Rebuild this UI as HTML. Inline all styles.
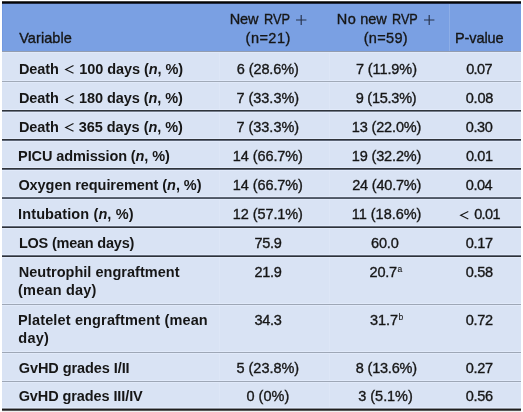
<!DOCTYPE html>
<html><head><meta charset="utf-8"><style>
html,body{margin:0;padding:0;background:#fff;}
body{width:523px;height:412px;position:relative;overflow:hidden;font-family:"Liberation Sans",sans-serif;color:#161616;}
.r{position:absolute;}
.layer{position:absolute;left:0;top:0;width:523px;height:412px;will-change:transform;}
.g{position:absolute;overflow:visible;}
.t{position:absolute;line-height:0;white-space:nowrap;font-size:14.5px;-webkit-text-stroke:0.35px #161616;}
.b{-webkit-text-stroke:0;}
.b{font-weight:bold;}
sup{-webkit-text-stroke:0.1px #161616;font-size:8.5px;line-height:0;vertical-align:0;position:relative;top:-5px;margin-left:0.5px;}
</style></head><body>
<div class="r" style="left:2px;top:1px;width:519px;height:1px;background:#434343"></div>
<div class="r" style="left:2px;top:2px;width:519px;height:1px;background:#050505"></div>
<div class="r" style="left:2px;top:3px;width:519px;height:1px;background:#222c45"></div>
<div class="r" style="left:2px;top:4px;width:519px;height:47px;background:#7aa0e3"></div>
<div class="r" style="left:2px;top:51px;width:519px;height:1px;background:#939db0"></div>
<div class="r" style="left:2px;top:52px;width:519px;height:357px;background:#d9e3f4"></div>
<div class="r" style="left:2px;top:52px;width:519px;height:1px;background:#e1eafa"></div>
<div class="r" style="left:2px;top:4px;width:1px;height:47px;background:#7299e0"></div>
<div class="r" style="left:449px;top:4px;width:1px;height:47px;background:#8daee7"></div>
<div class="r" style="left:219px;top:53px;width:1px;height:354px;background:#dde6f6"></div>
<div class="r" style="left:329px;top:53px;width:1px;height:354px;background:#dde6f6"></div>
<div class="r" style="left:2px;top:80px;width:519px;height:1px;background:#e1eafa"></div>
<div class="r" style="left:2px;top:82px;width:519px;height:1px;background:#e1eafa"></div>
<div class="r" style="left:2px;top:109px;width:519px;height:1px;background:#e1eafa"></div>
<div class="r" style="left:2px;top:112px;width:519px;height:1px;background:#e1eafa"></div>
<div class="r" style="left:2px;top:138px;width:519px;height:1px;background:#e1eafa"></div>
<div class="r" style="left:2px;top:141px;width:519px;height:1px;background:#e1eafa"></div>
<div class="r" style="left:2px;top:167px;width:519px;height:1px;background:#e1eafa"></div>
<div class="r" style="left:2px;top:170px;width:519px;height:1px;background:#e1eafa"></div>
<div class="r" style="left:2px;top:196px;width:519px;height:1px;background:#e1eafa"></div>
<div class="r" style="left:2px;top:199px;width:519px;height:1px;background:#e1eafa"></div>
<div class="r" style="left:2px;top:225px;width:519px;height:1px;background:#e1eafa"></div>
<div class="r" style="left:2px;top:228px;width:519px;height:1px;background:#e1eafa"></div>
<div class="r" style="left:2px;top:254px;width:519px;height:1px;background:#e1eafa"></div>
<div class="r" style="left:2px;top:257px;width:519px;height:1px;background:#e1eafa"></div>
<div class="r" style="left:2px;top:303px;width:519px;height:1px;background:#e1eafa"></div>
<div class="r" style="left:2px;top:305px;width:519px;height:1px;background:#e1eafa"></div>
<div class="r" style="left:2px;top:351px;width:519px;height:1px;background:#e1eafa"></div>
<div class="r" style="left:2px;top:353px;width:519px;height:1px;background:#e1eafa"></div>
<div class="r" style="left:2px;top:380px;width:519px;height:1px;background:#e1eafa"></div>
<div class="r" style="left:2px;top:382px;width:519px;height:1px;background:#e1eafa"></div>
<div class="r" style="left:2px;top:81px;width:519px;height:1px;background:#a1aab8"></div>
<div class="r" style="left:2px;top:110px;width:519px;height:1px;background:#30353c"></div>
<div class="r" style="left:2px;top:111px;width:519px;height:1px;background:#747c8a"></div>
<div class="r" style="left:2px;top:139px;width:519px;height:1px;background:#30343b"></div>
<div class="r" style="left:2px;top:140px;width:519px;height:1px;background:#5c6575"></div>
<div class="r" style="left:2px;top:168px;width:519px;height:1px;background:#30343b"></div>
<div class="r" style="left:2px;top:169px;width:519px;height:1px;background:#5c6575"></div>
<div class="r" style="left:2px;top:197px;width:519px;height:1px;background:#5a6270"></div>
<div class="r" style="left:2px;top:198px;width:519px;height:1px;background:#4f5866"></div>
<div class="r" style="left:2px;top:226px;width:519px;height:1px;background:#636b7a"></div>
<div class="r" style="left:2px;top:227px;width:519px;height:1px;background:#2e3239"></div>
<div class="r" style="left:2px;top:255px;width:519px;height:1px;background:#636b7a"></div>
<div class="r" style="left:2px;top:256px;width:519px;height:1px;background:#2e3239"></div>
<div class="r" style="left:2px;top:304px;width:519px;height:1px;background:#9ea7b6"></div>
<div class="r" style="left:2px;top:352px;width:519px;height:1px;background:#9ea7b6"></div>
<div class="r" style="left:2px;top:381px;width:519px;height:1px;background:#9ea7b6"></div>
<div class="r" style="left:2px;top:407px;width:519px;height:1px;background:#e1eafa"></div>
<div class="r" style="left:2px;top:408px;width:519px;height:1px;background:#8c9199"></div>
<div class="r" style="left:2px;top:409px;width:519px;height:1px;background:#1e1e1e"></div>
<div class="r" style="left:2px;top:410px;width:519px;height:1px;background:#5a5a5a"></div>
<div class="r" style="left:2px;top:411px;width:519px;height:1px;background:#efefef"></div>
<div class="layer">
<svg class="g" style="left:295.80px;top:14.9px" width="10.4" height="10" viewBox="0 0 10.4 10"><path d="M0 5H10.4M5.2 0V10" stroke="#26324a" stroke-width="1.15" fill="none"/></svg>
<svg class="g" style="left:423.80px;top:14.9px" width="10.4" height="10" viewBox="0 0 10.4 10"><path d="M0 5H10.4M5.2 0V10" stroke="#26324a" stroke-width="1.15" fill="none"/></svg>
<svg class="g" style="left:64.90px;top:65.40px" width="9.00" height="8.80" viewBox="0 0 9.00 8.80"><path d="M8.50 0.5L0.7 4.40L8.50 8.30" stroke="#161616" stroke-width="1.15" fill="none"/></svg>
<svg class="g" style="left:65.00px;top:94.50px" width="9.00" height="8.80" viewBox="0 0 9.00 8.80"><path d="M8.50 0.5L0.7 4.40L8.50 8.30" stroke="#161616" stroke-width="1.15" fill="none"/></svg>
<svg class="g" style="left:65.00px;top:123.30px" width="9.00" height="8.80" viewBox="0 0 9.00 8.80"><path d="M8.50 0.5L0.7 4.40L8.50 8.30" stroke="#161616" stroke-width="1.15" fill="none"/></svg>
<svg class="g" style="left:460.20px;top:210.70px" width="8.80" height="8.50" viewBox="0 0 8.80 8.50"><path d="M8.30 0.5L0.7 4.25L8.30 8.00" stroke="#161616" stroke-width="1.15" fill="none"/></svg>
<div class="t" style="left:19.16px;top:37.58px;letter-spacing:0.080px;">Variable</div>
<div class="t" style="left:229.79px;top:18.98px;letter-spacing:-0.199px;">New</div>
<div class="t" style="left:264.17px;top:18.98px;transform:scaleX(0.8800);transform-origin:0 0;">RVP</div>
<div class="t" style="left:245.59px;top:37.88px;letter-spacing:0.474px;">(n=21)</div>
<div class="t" style="left:336.86px;top:18.98px;letter-spacing:0.535px;">No</div>
<div class="t" style="left:360.20px;top:18.98px;letter-spacing:-0.073px;">new</div>
<div class="t" style="left:391.86px;top:18.98px;transform:scaleX(0.8738);transform-origin:0 0;">RVP</div>
<div class="t" style="left:363.69px;top:37.88px;letter-spacing:0.336px;">(n=59)</div>
<div class="t" style="left:454.91px;top:37.88px;letter-spacing:-0.072px;">P-value</div>
<div class="t b" style="left:18.99px;top:68.68px;letter-spacing:-0.090px;">Death</div>
<div class="t b" style="left:79.36px;top:68.68px;letter-spacing:-0.073px;">100 days (<i>n</i>, %)</div>
<div class="t b" style="left:18.99px;top:97.98px;letter-spacing:-0.090px;">Death</div>
<div class="t b" style="left:79.10px;top:97.98px;letter-spacing:-0.071px;">180 days (<i>n</i>, %)</div>
<div class="t b" style="left:18.99px;top:126.78px;letter-spacing:-0.090px;">Death</div>
<div class="t b" style="left:78.63px;top:126.78px;letter-spacing:-0.032px;">365 days (<i>n</i>, %)</div>
<div class="t b" style="left:18.11px;top:155.78px;letter-spacing:-0.110px;">PICU admission (<i>n</i>, %)</div>
<div class="t b" style="left:18.40px;top:184.78px;letter-spacing:-0.059px;">Oxygen requirement (<i>n</i>, %)</div>
<div class="t b" style="left:18.08px;top:213.78px;letter-spacing:0.114px;">Intubation (<i>n</i>, %)</div>
<div class="t b" style="left:18.93px;top:242.88px;letter-spacing:-0.218px;">LOS (mean days)</div>
<div class="t b" style="left:18.70px;top:271.58px;letter-spacing:0.022px;">Neutrophil engraftment</div>
<div class="t b" style="left:18.08px;top:289.98px;letter-spacing:0.181px;">(mean day)</div>
<div class="t b" style="left:18.00px;top:319.58px;letter-spacing:0.143px;">Platelet engraftment (mean</div>
<div class="t b" style="left:18.36px;top:338.08px;letter-spacing:0.249px;">day)</div>
<div class="t b" style="left:18.70px;top:367.88px;letter-spacing:-0.070px;">GvHD grades I/II</div>
<div class="t b" style="left:18.70px;top:395.78px;letter-spacing:-0.096px;">GvHD grades III/IV</div>
<div class="t" style="left:236.84px;top:68.68px;letter-spacing:-0.106px;">6 (28.6%)</div>
<div class="t" style="left:355.94px;top:68.68px;letter-spacing:-0.096px;">7 (11.9%)</div>
<div class="t" style="left:466.14px;top:68.68px;letter-spacing:-0.623px;">0.07</div>
<div class="t" style="left:236.38px;top:97.98px;letter-spacing:-0.012px;">7 (33.3%)</div>
<div class="t" style="left:355.70px;top:97.98px;letter-spacing:-0.237px;">9 (15.3%)</div>
<div class="t" style="left:465.65px;top:97.98px;letter-spacing:-0.145px;">0.08</div>
<div class="t" style="left:236.38px;top:126.78px;letter-spacing:-0.012px;">7 (33.3%)</div>
<div class="t" style="left:351.83px;top:126.78px;letter-spacing:-0.155px;">13 (22.0%)</div>
<div class="t" style="left:465.83px;top:126.78px;letter-spacing:-0.402px;">0.30</div>
<div class="t" style="left:232.77px;top:155.78px;letter-spacing:-0.083px;">14 (66.7%)</div>
<div class="t" style="left:351.83px;top:155.78px;letter-spacing:-0.155px;">19 (32.2%)</div>
<div class="t" style="left:465.91px;top:155.78px;letter-spacing:-0.392px;">0.01</div>
<div class="t" style="left:232.77px;top:184.78px;letter-spacing:-0.083px;">14 (66.7%)</div>
<div class="t" style="left:352.25px;top:184.78px;letter-spacing:-0.201px;">24 (40.7%)</div>
<div class="t" style="left:465.87px;top:184.78px;letter-spacing:-0.483px;">0.04</div>
<div class="t" style="left:232.77px;top:213.78px;letter-spacing:-0.083px;">12 (57.1%)</div>
<div class="t" style="left:351.83px;top:213.78px;letter-spacing:-0.035px;">11 (18.6%)</div>
<div class="t" style="left:474.14px;top:213.78px;letter-spacing:-0.625px;">0.01</div>
<div class="t" style="left:254.52px;top:242.88px;letter-spacing:-0.279px;">75.9</div>
<div class="t" style="left:370.98px;top:242.88px;letter-spacing:-0.114px;">60.0</div>
<div class="t" style="left:465.83px;top:242.88px;letter-spacing:-0.333px;">0.17</div>
<div class="t" style="left:254.50px;top:271.58px;letter-spacing:-0.274px;">21.9</div>
<div class="t" style="left:369.50px;top:271.58px;letter-spacing:-0.188px;">20.7<sup>a</sup></div>
<div class="t" style="left:465.83px;top:271.58px;letter-spacing:-0.354px;">0.58</div>
<div class="t" style="left:254.54px;top:319.58px;letter-spacing:-0.302px;">34.3</div>
<div class="t" style="left:370.10px;top:319.58px;letter-spacing:-0.092px;">31.7<sup>b</sup></div>
<div class="t" style="left:465.83px;top:319.58px;letter-spacing:-0.333px;">0.72</div>
<div class="t" style="left:236.53px;top:367.88px;letter-spacing:-0.031px;">5 (23.8%)</div>
<div class="t" style="left:355.84px;top:367.88px;letter-spacing:-0.208px;">8 (13.6%)</div>
<div class="t" style="left:465.83px;top:367.88px;letter-spacing:-0.333px;">0.27</div>
<div class="t" style="left:246.43px;top:395.78px;letter-spacing:0.025px;">0 (0%)</div>
<div class="t" style="left:358.37px;top:395.78px;letter-spacing:-0.054px;">3 (5.1%)</div>
<div class="t" style="left:465.87px;top:395.78px;letter-spacing:-0.371px;">0.56</div>
</div>
</body></html>
